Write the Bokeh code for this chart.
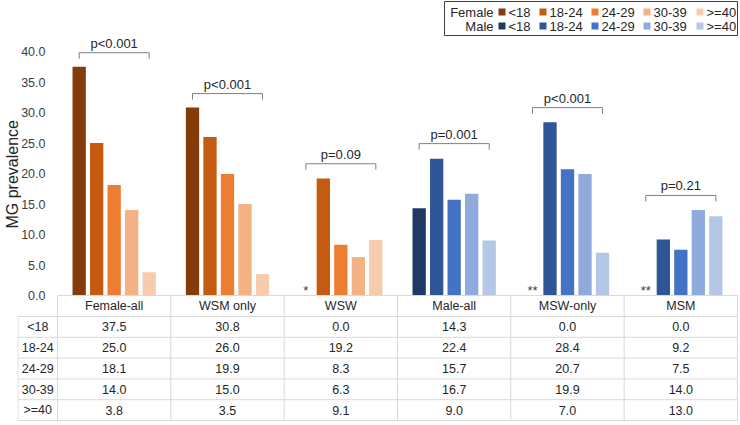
from bokeh.plotting import figure
from bokeh.models import ColumnDataSource, Range1d, FixedTicker, PrintfTickFormatter, Title
from bokeh.core.properties import value
from bokeh.embed import file_html
from bokeh.resources import INLINE

# ---------------- data ----------------
GROUPS = ["Female-all", "WSM only", "WSW", "Male-all", "MSW-only", "MSM"]
AGE_BANDS = ["<18", "18-24", "24-29", "30-39", ">=40"]
LT18 = [37.5, 30.8, 0.0, 14.3, 0.0, 0.0]
A18_24 = [25.0, 26.0, 19.2, 22.4, 28.4, 9.2]
A24_29 = [18.1, 19.9, 8.3, 15.7, 20.7, 7.5]
A30_39 = [14.0, 15.0, 6.3, 16.7, 19.9, 14.0]
GE40 = [3.8, 3.5, 9.1, 9.0, 7.0, 13.0]
SERIES = [LT18, A18_24, A24_29, A30_39, GE40]
SEX = ["Female", "Female", "Female", "Male", "Male", "Male"]
P_VALUES = ["p<0.001", "p<0.001", "p=0.09", "p=0.001", "p<0.001", "p=0.21"]
BRACKET_Y = [39.8, 33.1, 21.6, 24.9, 30.8, 16.4]
STARS = ["", "", "*", "", "**", "**"]
Y_TICKS = [0, 5, 10, 15, 20, 25, 30, 35, 40]

FEMALE_COLORS = ["#843C0C", "#C55A11", "#ED7D31", "#F4B183", "#F8CBAD"]
MALE_COLORS = ["#1F3864", "#2F5597", "#4472C4", "#8FAADC", "#B4C7E7"]

FONT = value("Liberation Sans")
TXT = "#262626"
GRID = "#D9D9D9"

# ---------------- layout helpers (pixels -> data) ----------------
W, H = 740, 425
LEFT = 17                      # frame left in px
GW_PX = 680.0 / 6              # group width in px
PX_PER_UNIT = 6.1
def X(xp):
    return -0.5 + (xp - 57.0) / GW_PX
def Y(yp):
    return (295.0 - yp) / PX_PER_UNIT

BAR_STEP = 17.5 / GW_PX
BAR_W = 13.3 / GW_PX

p = figure(width=W, height=H, output_backend="svg", toolbar_location=None,
           x_range=Range1d(X(LEFT), X(W)), y_range=Range1d(Y(H), Y(0)),
           x_axis_location=None, min_border_left=LEFT, min_border_right=0,
           min_border_top=0, min_border_bottom=0)
p.xgrid.visible = False
p.ygrid.visible = False
p.outline_line_color = None
p.background_fill_color = "white"
p.border_fill_color = "white"

yax = p.yaxis[0]
yax.ticker = FixedTicker(ticks=Y_TICKS)
yax.formatter = PrintfTickFormatter(format="%.1f")
yax.axis_line_color = None
yax.major_tick_line_color = None
yax.minor_tick_line_color = None
yax.major_tick_out = 0
yax.major_tick_in = 0
yax.major_label_standoff = -28
yax.major_label_text_font = "Liberation Sans"
yax.major_label_text_font_size = "12.5px"
yax.major_label_text_color = "#404040"

ylabel = Title(text="MG prevalence", align="left", offset=197, standoff=-6,
               text_font="Liberation Sans", text_font_size="16px",
               text_font_style="normal", text_color=TXT)
p.add_layout(ylabel, "left")

# ---------------- bars ----------------
for j, vals in enumerate(SERIES):
    xs = [g + (j - 2) * BAR_STEP for g in range(len(GROUPS))]
    cols = [FEMALE_COLORS[j] if s == "Female" else MALE_COLORS[j] for s in SEX]
    src = ColumnDataSource(dict(x=xs, top=vals, color=cols))
    p.vbar(x="x", top="top", bottom=0, width=BAR_W, fill_color="color",
           line_color=None, source=src)

# stars for empty <18 groups
sx_ = [g - 2 * BAR_STEP for g, s in enumerate(STARS) if s]
st_ = [s for s in STARS if s]
p.text(x=sx_, y=[Y(289.5)] * len(sx_), text=st_, text_font=FONT, text_font_size="13px",
       text_align="center", text_baseline="middle", text_color="#404040")

# ---------------- brackets ----------------
TICK = 6.0 / PX_PER_UNIT
bx0 = [g - 2 * BAR_STEP for g in range(len(GROUPS))]
bx1 = [g + 2 * BAR_STEP for g in range(len(GROUPS))]
p.segment(x0=bx0, y0=BRACKET_Y, x1=bx1, y1=BRACKET_Y, line_color="#7F7F7F", line_width=1)
p.segment(x0=bx0, y0=BRACKET_Y, x1=bx0, y1=[b - TICK for b in BRACKET_Y], line_color="#7F7F7F", line_width=1)
p.segment(x0=bx1, y0=BRACKET_Y, x1=bx1, y1=[b - TICK for b in BRACKET_Y], line_color="#7F7F7F", line_width=1)
GAP = 9.5 / PX_PER_UNIT
p.text(x=list(range(len(GROUPS))), y=[b + GAP for b in BRACKET_Y], text=P_VALUES,
       text_font=FONT, text_font_size="13px", text_align="center",
       text_baseline="middle", text_color=TXT)

# ---------------- data table ----------------
T_TOP, T_HEAD, ROW_H = 295.0, 316.0, 20.8
T_LEFT, T_RIGHT = 17.5, 737.0
T_BOTTOM = T_HEAD + ROW_H * len(AGE_BANDS)
p.segment(x0=[X(57)], y0=[Y(T_TOP)], x1=[X(T_RIGHT)], y1=[Y(T_TOP)], line_color=GRID)
hy = [Y(T_HEAD + ROW_H * k) for k in range(len(AGE_BANDS) + 1)]
p.segment(x0=[X(T_LEFT)] * len(hy), y0=hy, x1=[X(T_RIGHT)] * len(hy), y1=hy, line_color=GRID)
vx = [g - 0.5 for g in range(len(GROUPS) + 1)]
p.segment(x0=vx, y0=[Y(T_TOP)] * len(vx), x1=vx, y1=[Y(T_BOTTOM)] * len(vx), line_color=GRID)
p.segment(x0=[X(T_LEFT)], y0=[Y(T_HEAD)], x1=[X(T_LEFT)], y1=[Y(T_BOTTOM)], line_color=GRID)

p.text(x=list(range(len(GROUPS))), y=[Y((T_TOP + T_HEAD) / 2)] * len(GROUPS), text=GROUPS,
       text_font=FONT, text_font_size="12.5px", text_align="center", text_baseline="middle",
       text_color=TXT)
ry = [Y(T_HEAD + ROW_H * (k + 0.5)) for k in range(len(AGE_BANDS))]
p.text(x=[X((T_LEFT + 57) / 2)] * len(AGE_BANDS), y=ry, text=AGE_BANDS, text_font=FONT,
       text_font_size="12.5px", text_align="center", text_baseline="middle", text_color=TXT)
cx, cy, ct = [], [], []
for k, vals in enumerate(SERIES):
    for g, v in enumerate(vals):
        cx.append(g)
        cy.append(ry[k])
        ct.append(f"{v:.1f}")
p.text(x=cx, y=cy, text=ct, text_font=FONT, text_font_size="12.5px", text_align="center",
       text_baseline="middle", text_color=TXT)

# ---------------- legend ----------------
p.quad(left=[X(444)], right=[X(737)], top=[Y(1)], bottom=[Y(35)], fill_color="white",
       line_color="#404040", line_width=1)
LEG_ROWS = [("Female", 11.5, FEMALE_COLORS), ("Male", 25.5, MALE_COLORS)]
SW_LEFT = [498, 539, 591, 643, 696]
for name, yp, cols in LEG_ROWS:
    p.text(x=[X(493)], y=[Y(yp)], text=[name], text_font=FONT, text_font_size="13px",
           text_align="right", text_baseline="middle", text_color=TXT)
    p.rect(x=[X(s + 3.5) for s in SW_LEFT], y=[Y(yp)] * 5, width=7, height=7,
           width_units="screen", height_units="screen", fill_color=cols, line_color=None)
    p.text(x=[X(s + 10) for s in SW_LEFT], y=[Y(yp)] * 5, text=AGE_BANDS, text_font=FONT,
           text_font_size="13px", text_align="left", text_baseline="middle", text_color=TXT)

open("out.html", "w").write(file_html(p, INLINE))
